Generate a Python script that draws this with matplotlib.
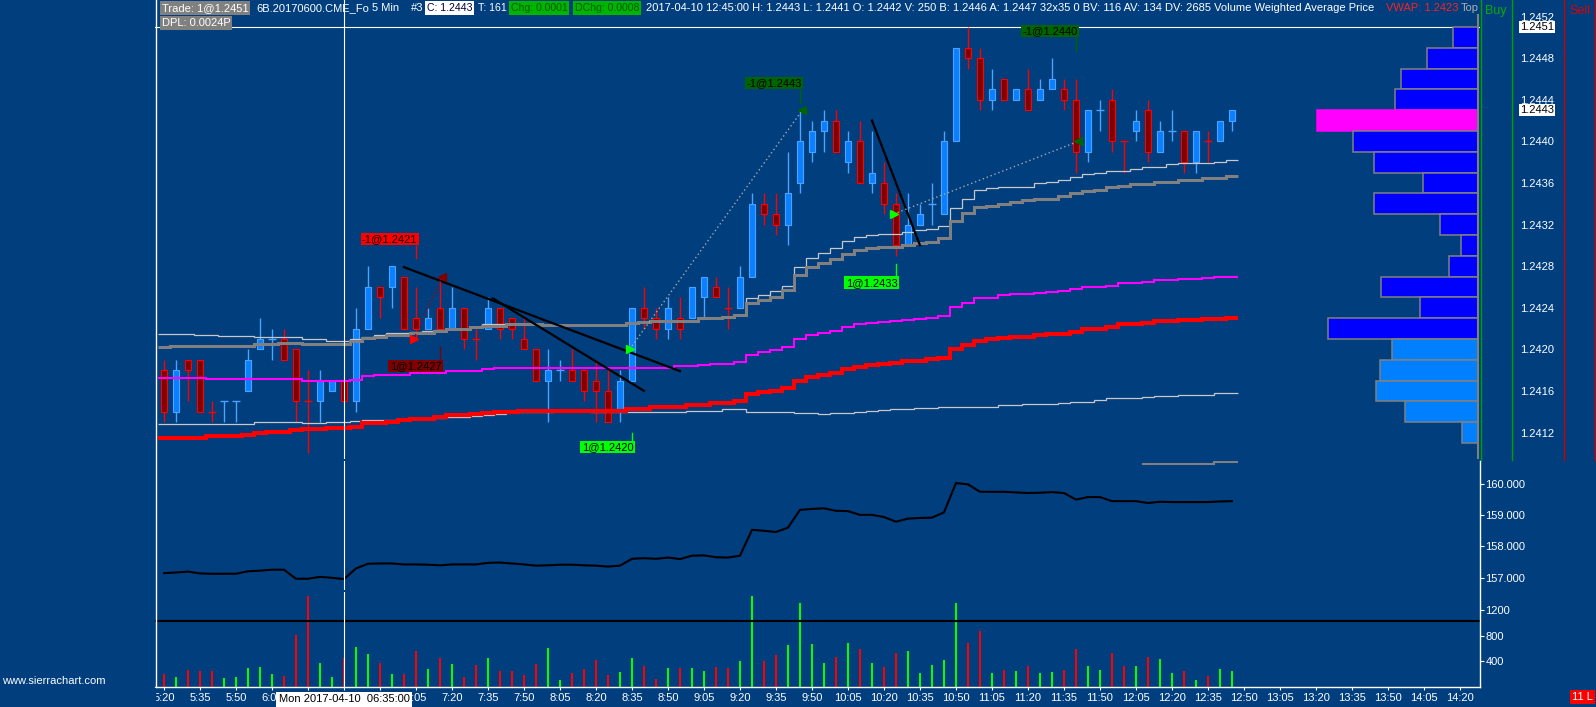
import numpy as np
import matplotlib
matplotlib.use('Agg')
import matplotlib.pyplot as plt
from matplotlib.lines import Line2D
from matplotlib.patches import Rectangle

plt.rcParams['font.family'] = ['Liberation Sans', 'DejaVu Sans']

W, H = 1596, 707
BG = '#003e7e'
BASE = 1.24  # price series below are in pips (0.0001) above 1.2400

# 6B 5 min bars, 2017-04-10 05:20 .. 12:45
opens = [18, 14, 19, 19, 14, 15, 15, 16, 20, 21,
         21, 20, 15, 15, 16, 17, 15, 22, 26, 26,
         27, 23, 22, 24, 22, 24, 21, 22, 24, 23,
         21, 20, 17, 18, 18, 18, 17, 16, 14, 17,
         24, 23, 22, 23, 23, 25, 26, 24, 24, 27,
         34, 33, 32, 36, 39, 41, 42, 38, 40, 36,
         36, 34, 30, 32, 34, 33, 40, 49, 48, 44,
         46, 44, 45, 44, 45, 45, 44, 39, 43, 44,
         40, 41, 43, 39, 41, 41, 38, 40, 40, 42]
highs = [19, 19, 19, 19, 15, 15, 15, 20, 23, 22,
         22, 20, 18, 18, 17, 17, 24, 28, 26, 28,
         27, 26, 24, 27, 26, 24, 22, 25, 24, 23,
         23, 20, 20, 19, 20, 18, 19, 18, 18, 24,
         26, 24, 25, 25, 26, 27, 27, 26, 28, 35,
         35, 35, 39, 43, 42, 43, 43, 41, 42, 41,
         38, 35, 35, 34, 36, 41, 49, 51, 49, 47,
         46, 45, 47, 46, 48, 46, 46, 43, 44, 45,
         40, 43, 44, 42, 43, 41, 41, 41, 42, 43]
lows = [13, 13, 15, 14, 13, 13, 13, 16, 20, 19,
        19, 13, 10, 13, 16, 15, 14, 22, 23, 24,
        22, 21, 22, 22, 22, 20, 19, 22, 21, 21,
        20, 17, 13, 17, 17, 15, 13, 13, 13, 17,
        22, 21, 21, 21, 23, 23, 25, 22, 24, 27,
        32, 31, 30, 35, 38, 39, 39, 37, 36, 35,
        33, 29, 30, 32, 32, 33, 40, 47, 43, 43,
        44, 44, 43, 44, 45, 43, 37, 38, 41, 39,
        37, 40, 38, 39, 40, 37, 37, 38, 40, 41]
closes = [14, 18, 18, 14, 14, 15, 15, 19, 21, 21,
          19, 15, 15, 17, 17, 15, 22, 26, 25, 28,
          22, 22, 23, 22, 24, 21, 21, 24, 22, 22,
          20, 17, 18, 18, 17, 16, 16, 13, 17, 24,
          23, 22, 24, 22, 26, 27, 25, 24, 27, 34,
          33, 32, 35, 40, 41, 42, 39, 40, 36, 37,
          34, 30, 32, 33, 34, 40, 49, 48, 44, 45,
          44, 45, 43, 45, 46, 44, 39, 43, 43, 40,
          40, 42, 39, 41, 41, 38, 41, 40, 42, 43]
doji_up = [5, 6, 9, 33, 64, 78, 84]

volume = [197, 150, 259, 244, 244, 135, 150, 291, 306, 197,
          166, 804, 1411, 368, 150, 457, 618, 509, 368, 197,
          197, 555, 275, 457, 353, 150, 337, 457, 244, 244,
          182, 353, 602, 104, 213, 275, 415, 182, 228, 446,
          322, 119, 291, 291, 291, 244, 306, 291, 400, 1411,
          400, 493, 649, 1302, 664, 368, 462, 680, 586, 368,
          306, 524, 555, 213, 337, 415, 1302, 680, 867, 213,
          259, 244, 322, 213, 228, 259, 586, 322, 259, 524,
          322, 322, 462, 431, 213, 244, 104, 166, 275, 250]
vol_line = 1025

vwap = [11.5, 11.5, 11.5, 11.5, 11.7, 11.7, 11.7, 11.8, 12.0, 12.05,
        12.05, 12.2, 12.3, 12.3, 12.4, 12.4, 12.5, 12.95, 12.95, 13.05,
        13.2, 13.3, 13.3, 13.45, 13.65, 13.65, 13.8, 13.9, 14.0, 14.0,
        14.1, 14.1, 14.1, 14.1, 14.1, 14.1, 14.1, 14.1, 14.1, 14.3,
        14.3, 14.5, 14.5, 14.5, 14.65, 14.65, 14.8, 14.8, 15.0, 15.7,
        15.85, 16.0, 16.3, 16.95, 17.37, 17.56, 17.75, 18.1, 18.33, 18.52,
        18.62, 18.71, 18.9, 18.9, 19.1, 19.2, 20.06, 20.44, 20.83, 20.96,
        21.05, 21.15, 21.2, 21.34, 21.44, 21.5, 21.7, 21.92, 22.0, 22.15,
        22.4, 22.4, 22.56, 22.75, 22.75, 22.8, 22.8, 22.9, 22.95, 23.0]
band_up = [17.2, 17.2, 17.2, 17.2, 17.1, 17.1, 17.1, 17.15, 17.15, 17.15,
           17.15, 17.1, 16.95, 16.95, 16.95, 16.95, 17.05, 17.4, 17.5, 17.5,
           17.5, 17.75, 17.75, 17.75, 17.94, 17.94, 17.94, 18.1, 18.24, 18.24,
           18.24, 18.24, 18.24, 18.24, 18.24, 18.24, 18.2, 18.2, 18.2, 18.24,
           18.24, 18.24, 18.24, 18.4, 18.4, 18.5, 18.6, 18.6, 18.78, 19.5,
           19.7, 19.9, 20.2, 21.0, 21.37, 21.6, 21.8, 22.15, 22.47, 22.56,
           22.66, 22.75, 22.85, 22.95, 23.04, 23.23, 24.1, 24.45, 24.93, 24.93,
           25.19, 25.28, 25.35, 25.45, 25.54, 25.64, 25.83, 25.96, 26.0, 26.1,
           26.34, 26.34, 26.5, 26.66, 26.66, 26.76, 26.76, 26.9, 26.99, 26.99]
avg_thick = [20.2, 20.3, 20.3, 20.3, 20.3, 20.3, 20.3, 20.3, 20.5, 20.5,
             20.6, 20.6, 20.5, 20.5, 20.5, 20.5, 20.8, 21.05, 21.2, 21.4,
             21.4, 21.6, 21.6, 21.8, 22.0, 22.0, 22.1, 22.24, 22.24, 22.4,
             22.4, 22.4, 22.3, 22.3, 22.3, 22.3, 22.3, 22.3, 22.3, 22.5,
             22.6, 22.75, 22.75, 22.75, 22.75, 23.0, 23.0, 23.1, 23.3, 24.5,
             24.75, 25.0, 25.7, 27.1, 27.9, 28.26, 28.65, 29.2, 29.55, 29.7,
             29.8, 29.8, 30.0, 30.2, 30.35, 30.7, 32.3, 33.1, 33.65, 33.8,
             34.0, 34.2, 34.35, 34.45, 34.5, 34.75, 35.0, 35.2, 35.3, 35.57,
             35.73, 35.9, 35.9, 36.1, 36.1, 36.28, 36.28, 36.44, 36.44, 36.66]
avg_thin = [21.5, 21.5, 21.5, 21.4, 21.4, 21.3, 21.3, 21.3, 21.2, 21.2,
            21.2, 21.15, 20.95, 20.95, 20.8, 20.8, 21.0, 21.15, 21.4, 21.55,
            21.55, 21.7, 21.8, 21.9, 22.0, 22.0, 22.1, 22.4, 22.4, 22.4,
            22.4, 22.4, 22.3, 22.3, 22.3, 22.3, 22.3, 22.3, 22.3, 22.5,
            22.6, 22.75, 22.75, 22.75, 22.75, 23.0, 23.0, 23.1, 23.3, 24.9,
            25.2, 25.6, 26.1, 27.9, 28.8, 29.3, 29.7, 30.4, 30.76, 31.0,
            31.1, 31.1, 31.3, 31.5, 31.6, 31.85, 33.6, 34.5, 35.3, 35.5,
            35.6, 35.6, 35.6, 36.0, 36.1, 36.3, 36.6, 36.85, 37.0, 37.18,
            37.18, 37.3, 37.56, 37.56, 37.8, 37.95, 37.95, 37.95, 38.04, 38.17]
band_low = [12.8, 12.8, 12.8, 12.8, 12.8, 12.8, 12.8, 12.8, 13.0, 13.0,
            13.0, 13.0, 12.9, 12.9, 13.0, 13.0, 13.07, 13.2, 13.2, 13.2,
            13.2, 13.33, 13.33, 13.43, 13.5, 13.5, 13.58, 13.7, 13.8, 13.94,
            13.94, 13.94, 13.94, 14.07, 14.07, 14.07, 14.0, 14.0, 14.0, 14.0,
            14.0, 14.0, 14.0, 14.0, 14.07, 14.07, 14.07, 14.23, 14.23, 14.0,
            14.0, 14.0, 14.0, 13.84, 13.84, 13.75, 13.84, 13.84, 13.94, 14.07,
            14.16, 14.26, 14.26, 14.39, 14.39, 14.5, 14.45, 14.45, 14.5, 14.5,
            14.6, 14.6, 14.7, 14.7, 14.7, 14.8, 14.93, 14.93, 15.12, 15.3,
            15.3, 15.3, 15.45, 15.54, 15.54, 15.6, 15.6, 15.6, 15.77, 15.77]

indicator = [157.14, 157.16, 157.19, 157.13, 157.12, 157.12, 157.12, 157.20, 157.22, 157.25,
             157.25, 156.96, 156.96, 157.02, 156.99, 156.95, 157.29, 157.44, 157.45, 157.45,
             157.42, 157.42, 157.41, 157.39, 157.42, 157.42, 157.42, 157.47, 157.48, 157.45,
             157.42, 157.38, 157.39, 157.41, 157.41, 157.39, 157.38, 157.35, 157.38, 157.60,
             157.62, 157.60, 157.64, 157.59, 157.70, 157.71, 157.65, 157.64, 157.70, 158.53,
             158.50, 158.46, 158.60, 159.17, 159.20, 159.22, 159.14, 159.13, 159.01, 159.01,
             158.94, 158.79, 158.89, 158.91, 158.92, 159.09, 160.03, 159.99, 159.75, 159.75,
             159.75, 159.73, 159.71, 159.72, 159.74, 159.71, 159.50, 159.58, 159.58, 159.45,
             159.45, 159.45, 159.39, 159.43, 159.42, 159.42, 159.42, 159.42, 159.44, 159.45]
ind2_first = 82
ind2 = [160.63, 160.63, 160.63, 160.64, 160.64, 160.65, 160.71, 160.72]

# volume profile, 0.0002 rows
prof_price = [1.2450, 1.2448, 1.2446, 1.2444, 1.2442, 1.2440, 1.2438, 1.2436, 1.2434, 1.2432,
              1.2430, 1.2428, 1.2426, 1.2424, 1.2422, 1.2420, 1.2418, 1.2416, 1.2414, 1.2412]
prof_vol = [250, 510, 770, 830, 1610, 1250, 1040, 550, 1040, 380,
            170, 290, 970, 580, 1500, 860, 980, 1020, 730, 160]

# trades
trade_bar = [21, 23, 39, 53, 61, 76]
trade_price = [1.2421, 1.2427, 1.2420, 1.2443, 1.2433, 1.2440]
trade_qty = [-1, 1, 1, -1, 1, -1]
trade_col = ['#ff0000', '#800000', '#00ff00', '#006400', '#00ff00', '#006400']
label_y = [1.24306, 1.24184, 1.24106, 1.24456, 1.24264, 1.24506]
stem_end = [1.24288, 1.24202, 1.24120, 1.24437, 1.24282, 1.24487]

# drawn trendlines (bar, price)
trend_x0 = [20.0, 27.4, 59.0]
trend_y0 = [1.24279, 1.24249, 1.24420]
trend_x1 = [43.0, 40.0, 63.0]
trend_y1 = [1.24179, 1.24160, 1.24300]

cursor_bar = 15
cursor_price = 1.2451

price_ticks = [1.2412, 1.2416, 1.2420, 1.2424, 1.2428, 1.2432, 1.2436, 1.2440, 1.2444, 1.2448, 1.2452]
# labels hidden behind the cursor time box are left blank
time_labels = ['5:20', '5:35', '5:50', '6:05', '', '', '', '7:05', '7:20', '7:35',
               '7:50', '8:05', '8:20', '8:35', '8:50', '9:05', '9:20', '9:35', '9:50', '10:05',
               '10:20', '10:35', '10:50', '11:05', '11:20', '11:35', '11:50', '12:05', '12:20', '12:35',
               '12:50', '13:05', '13:20', '13:35', '13:50', '14:05', '14:20']


def px(v):
    return BASE + np.array(v, dtype=float) / 1e4


def box(x0, y0, x1, y1):
    return [x0 / W, 1 - y1 / H, (x1 - x0) / W, (y1 - y0) / H]


fig = plt.figure(figsize=(W / 100, H / 100), dpi=100, facecolor=BG)
ax_p = fig.add_axes(box(155, 0, 1480, 459))
ax_i = fig.add_axes(box(155, 461, 1480, 590))
ax_v = fig.add_axes(box(155, 592, 1480, 687))
for ax in (ax_p, ax_i, ax_v):
    ax.set_facecolor(BG)
    ax.set_xlim(-0.75, 109.67)
    for s in ax.spines.values():
        s.set_visible(False)
    ax.tick_params(colors='white', labelsize=8)

n = len(opens)
x = np.arange(n)
o, h, l, c = px(opens), px(highs), px(lows), px(closes)
doji = c == o
up = c > o
up[doji_up] = True

UP_FILL, UP_LINE = '#0a80ff', '#4aa3ff'
DN_FILL, DN_LINE = '#800000', '#ff0000'
line_col = np.where(up, UP_LINE, DN_LINE)
fill_col = np.where(up, UP_FILL, DN_FILL)

# ---- price pane
ax_p.set_ylim(1.2409452, 1.2453587)
ax_p.set_xticks([])
ax_p.yaxis.tick_right()
ax_p.set_yticks(price_ticks, [f'{p:.4f}' for p in price_ticks])
ax_p.tick_params(axis='y', length=0, pad=28.8)

pv = np.array(prof_vol, dtype=float)
pw = pv / pv.max() * 13.39
pright = 109.475
poc = int(np.argmax(pv))
pcol = ['#0080ff' if p <= 1.2420 else '#0000ff' for p in prof_price]
pcol[poc] = '#ff00ff'
pedge = ['#808080'] * len(pv)
pedge[poc] = '#ff00ff'
ax_p.barh(prof_price, pw, height=0.0002, left=pright - pw, color=pcol,
          edgecolor=pedge, linewidth=1.1, zorder=1)
ax_p.axvline(pright, ymax=1 - 15 / 459, color='#808080', lw=1.5, zorder=1.2)
ax_p.axhline(cursor_price, color='white', lw=0.8, zorder=0.5)

ax_p.vlines(x, l, h, colors=line_col, lw=1.0, zorder=2)
nb = ~doji
ax_p.bar(x[nb], np.abs(c - o)[nb], bottom=np.minimum(o, c)[nb], width=0.56,
         color=fill_col[nb], edgecolor=line_col[nb], linewidth=0.8, zorder=2.1)
ax_p.hlines(o[doji], x[doji] - 0.32, x[doji] + 0.32, colors=line_col[doji], lw=1.0, zorder=2.1)

edges = np.arange(n + 1) - 0.5
ax_p.stairs(px(band_low), edges, baseline=None, color='#c8c8c8', lw=0.9, zorder=3)
ax_p.stairs(px(avg_thin), edges, baseline=None, color='#c8c8c8', lw=0.9, zorder=3)
ax_p.stairs(px(avg_thick), edges, baseline=None, color='#808080', lw=2.2, zorder=3.1)
ax_p.stairs(px(band_up), edges, baseline=None, color='#ff00ff', lw=1.5, zorder=3.2)
ax_p.stairs(px(vwap), edges, baseline=None, color='#ff0000', lw=3.0, zorder=3.3)

for a0, b0, a1, b1 in zip(trend_x0, trend_y0, trend_x1, trend_y1):
    ax_p.plot([a0, a1], [b0, b1], color='black', lw=1.6, zorder=4)

# trade markers, connecting lines and labels
pair_col = ['#b00000', '#a8a8a8', '#a8a8a8']
for k in range(0, len(trade_bar), 2):
    xa, xb = trade_bar[k] - 0.2, trade_bar[k + 1] + 0.2
    ax_p.plot([xa, xb], [trade_price[k], trade_price[k + 1]], ls=(0, (1, 2)),
              color=pair_col[k // 2], lw=1, zorder=4.5)
    ax_p.plot(xa, trade_price[k], marker='>', ms=6, color=trade_col[k], zorder=5, ls='none')
    ax_p.plot(xb, trade_price[k + 1], marker='<', ms=6, color=trade_col[k + 1], zorder=5, ls='none')

for b, p, q, ly, se, col in zip(trade_bar, trade_price, trade_qty, label_y, stem_end, trade_col):
    ax_p.text(b + 0.12, ly, f'{q}@{p:.4f}', ha='right', va='center', fontsize=8, color='black',
              bbox=dict(boxstyle='square,pad=0.12', fc=col, ec='none'), zorder=7)
    e0 = ly - 0.000065 if q < 0 else ly + 0.000065
    ax_p.plot([b, b], [e0, se], color=col, lw=1, zorder=7)

ytr = ax_p.get_yaxis_transform()
for val in (cursor_price, c[-1]):
    ax_p.text(1.0302, val, f'{val:.4f}', transform=ytr, ha='left', va='center', fontsize=8,
              color='black', clip_on=False, zorder=10,
              bbox=dict(boxstyle='square,pad=0.12', fc='white', ec='none'))

# ---- indicator pane
ax_i.set_ylim(156.599, 160.738)
ax_i.set_xticks([])
ax_i.yaxis.tick_right()
ind_ticks = [157, 158, 159, 160]
ax_i.set_yticks(ind_ticks, [f'{v:.3f}' for v in ind_ticks])
ax_i.tick_params(axis='y', length=2.9, width=0.8, pad=1)
ax_i.plot(x, indicator, color='black', lw=1.5, zorder=3)
ax_i.stairs(ind2, np.arange(len(ind2) + 1) + ind2_first - 0.5, baseline=None,
            color='#808080', lw=1.5, zorder=3)

# ---- volume pane
ax_v.set_ylim(0, 1480)
ax_v.yaxis.tick_right()
ax_v.set_yticks([400, 800, 1200])
ax_v.tick_params(axis='y', length=2.9, width=0.8, pad=1)
ax_v.bar(x, volume, width=0.21, color=np.where(up, '#00ff00', '#ff0000'), zorder=2)
ax_v.axhline(vol_line, color='black', lw=1.5, zorder=3)
ax_v.set_xticks(np.arange(0, 3 * len(time_labels), 3), time_labels)
ax_v.tick_params(axis='x', length=2.4, width=0.8, pad=2)

for ax in (ax_p, ax_i, ax_v):
    ax.axvline(cursor_bar, color='white', lw=0.8, zorder=6)

xtr = ax_v.get_xaxis_transform()
ax_v.text(cursor_bar, -0.13, 'Mon 2017-04-10  06:35:00', transform=xtr, ha='center', va='center',
          fontsize=8, color='black', clip_on=False, zorder=10,
          bbox=dict(boxstyle='square,pad=0.2', fc='white', ec='none'))

# ---- frame lines / side columns
def fline(x0, y0, x1, y1, col, lw):
    fig.add_artist(Line2D([x0 / W, x1 / W], [1 - y0 / H, 1 - y1 / H], color=col, lw=lw, zorder=4))

fline(155.5, 0, 155.5, 687, 'white', 1)
fline(155, 687, 1480, 687, 'white', 1)
fline(1480, 461, 1480, 687, 'white', 1)
fline(1480.5, 0, 1480.5, 460, '#00a000', 1)
fline(1511.5, 0, 1511.5, 460, '#00a000', 1)
fline(1563.5, 0, 1563.5, 460, '#d00000', 1)
fline(1594.5, 0, 1594.5, 460, '#d00000', 1)
fig.add_artist(Rectangle((0, 0), 155 / W, (H - 688) / H, transform=fig.transFigure,
                         color=BG, zorder=5))

# ---- header texts
def ftext(xp, yp, s, col='white', bg=None, size=8):
    kw = {}
    if bg is not None:
        kw['bbox'] = dict(boxstyle='square,pad=0.15', fc=bg, ec='none')
    fig.text(xp / W, 1 - yp / H, s, ha='left', va='center', fontsize=size, color=col, zorder=8, **kw)

ftext(162, 8, 'Trade: 1@1.2451', 'white', '#808080')
ftext(256, 8, '6B.20170600.CME_Fo')
ftext(372, 8, '5 Min')
ftext(411, 8, '#3')
ftext(427, 8, 'C: 1.2443', '#000040', 'white', size=7.6)
ftext(478, 8, 'T: 161', size=7.6)
ftext(511, 8, 'Chg: 0.0001', '#005a00', '#00b400', size=7.6)
ftext(575, 8, 'DChg: 0.0008', '#005a00', '#00b400', size=7.6)
ftext(646, 8, '2017-04-10 12:45:00 H: 1.2443 L: 1.2441 O: 1.2442 V: 250 B: 1.2446 A: 1.2447 '
              '32x35 0 BV: 116 AV: 134 DV: 2685 Volume Weighted Average Price')
ftext(1386, 8, 'VWAP: 1.2423', '#ff2020')
ftext(1461, 8, 'Top', '#b0b0b0')
ftext(162, 23, 'DPL: 0.0024P', 'white', '#808080')
ftext(1485, 11, 'Buy', '#00b000', size=9)
ftext(1569, 11, 'Sell', '#e00000', size=9)
ftext(2, 681, 'www.sierrachart.com')
ftext(1572, 697, '11 L', 'white', '#ff0000')

fig.savefig('out.png', dpi=100, facecolor=BG)
